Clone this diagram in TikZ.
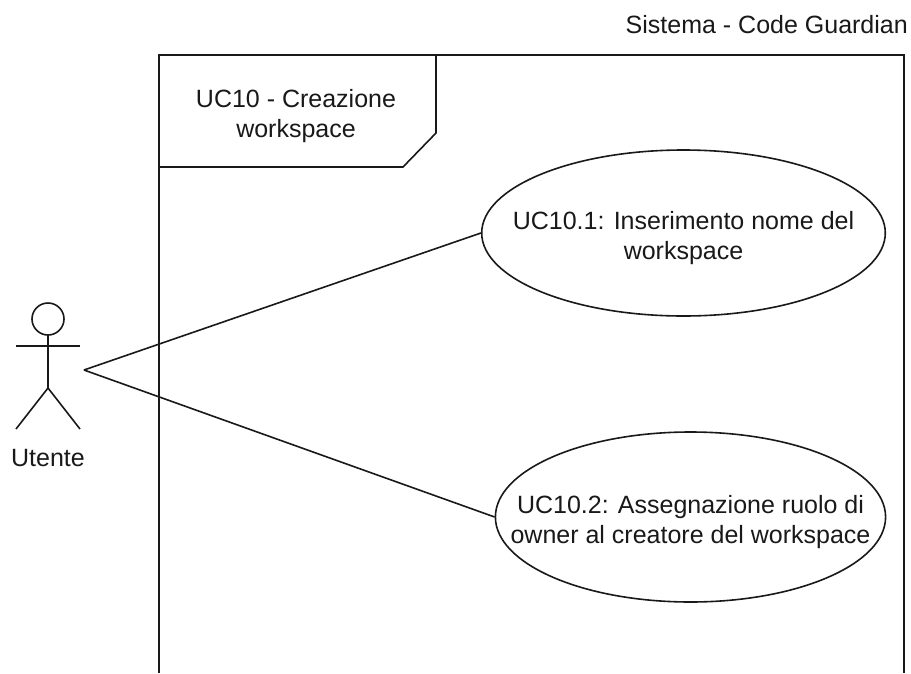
\documentclass[tikz,border=0pt]{standalone}
\usepackage{fontspec}
\setmainfont{Liberation Sans}
\usetikzlibrary{shapes.geometric}
\newcommand{\topgap}{\rule{0pt}{28pt}}
\tikzset{
  ln/.style={draw=black!90,line width=1.6pt},
  uc/.style={ellipse,ln,fill=white,inner ysep=0pt,align=center,text=black!90,font=\fontsize{25}{30}\selectfont},
  txt/.style={inner sep=0pt,align=center,font=\fontsize{25}{30}\selectfont,text=black!90}
}
\begin{document}
\begin{tikzpicture}[x=1pt,y=-1pt]
\useasboundingbox (0,0) rectangle (911,673);
\fill[white] (0,0) rectangle (911,673);
\coordinate (bl) at (159,673);
\coordinate (tl) at (159,55);
\coordinate (tr) at (904,55);
\coordinate (br) at (904,673);
\draw[ln] (bl) -- (tl) -- (tr) -- (br);
\draw[ln] (159,167) -- (403,167) -- (436,133) -- (436,55);
\node[txt] (title) at (296,116) {UC10 - Creazione\\workspace};
\node[txt,anchor=base east] (sys) at (908,33) {Sistema - Code Guardian};
% actor
\draw[ln] (48,319) circle (16);
\draw[ln] (48,335) -- (48,388);
\draw[ln] (16,346) -- (80,346);
\draw[ln] (16,429) -- (48,388) -- (80,429);
\node[txt,anchor=base] (utente) at (48,466) {Utente};
\coordinate (act) at (84,370);
\node[uc,inner xsep=-28pt,minimum height=166pt] (a) at (683.5,233) {\topgap UC10.1: Inserimento nome del\\workspace};
\node[uc,inner xsep=-42pt,minimum height=170pt] (b) at (690.5,517) {\topgap UC10.2: Assegnazione ruolo di\\owner al creatore del workspace};
\draw[ln] (act) -- (a.west);
\draw[ln] (act) -- (b.west);
\end{tikzpicture}
\end{document}
